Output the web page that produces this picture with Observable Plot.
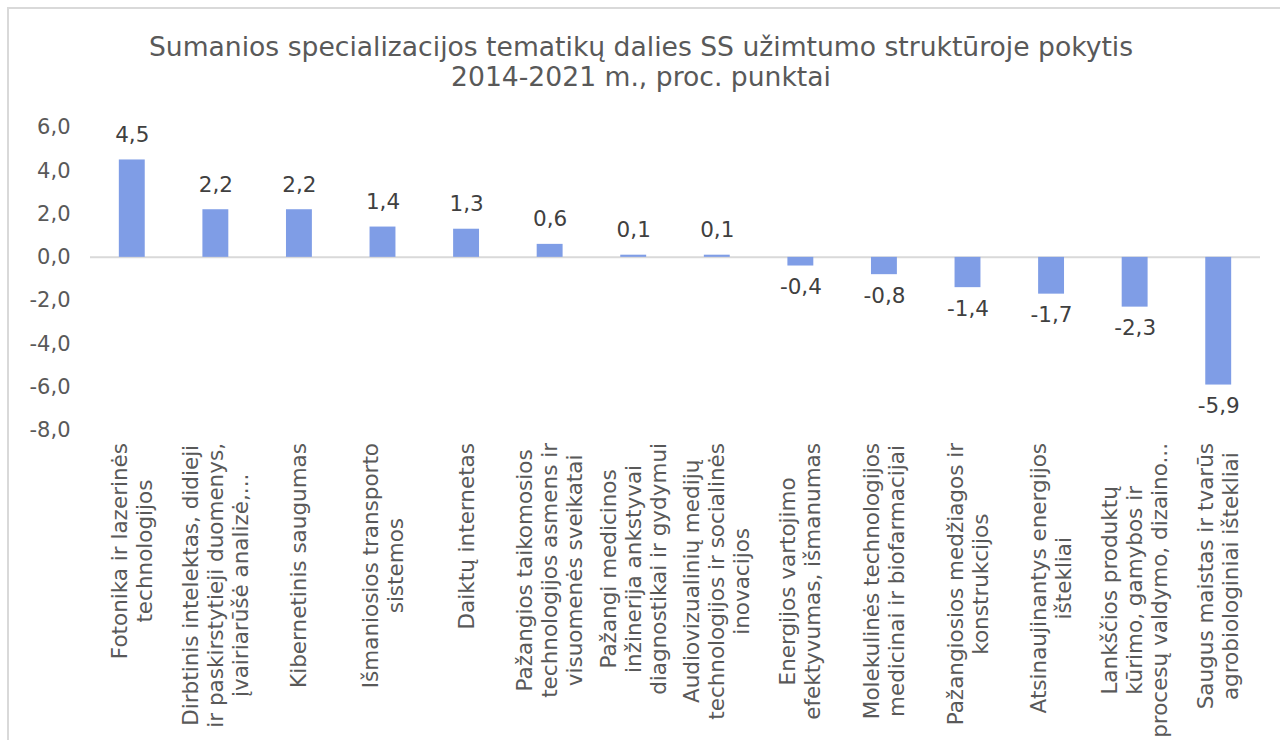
<!DOCTYPE html>
<html><head><meta charset="utf-8">
<script src="https://cdn.jsdelivr.net/npm/d3@7"></script>
<script src="https://cdn.jsdelivr.net/npm/@observablehq/plot@0.6"></script>
<style>
body{margin:0;background:#fff;font-family:"DejaVu Sans",Verdana,sans-serif;}
#wrap{position:relative;width:1280px;height:740px;overflow:hidden;background:#fff;}
#frame{position:absolute;left:7px;top:7px;width:1290px;height:750px;border-left:2px solid #d9d9d9;border-top:2px solid #d9d9d9;box-sizing:border-box;}
#title{position:absolute;top:32px;left:1px;width:1280px;text-align:center;font-size:26.6px;color:#595959;line-height:30px;}
#chart{position:absolute;top:100px;left:0;}
</style></head>
<body>
<div id="wrap">
  <div id="frame"></div>
  <div id="title">Sumanios specializacijos tematikų dalies SS užimtumo struktūroje pokytis<br>2014-2021 m., proc. punktai</div>
  <div id="chart"></div>
</div>
<script>
const categories = [
  "Fotonika ir lazerinės\ntechnologijos",
  "Dirbtinis intelektas, didieji\nir paskirstytieji duomenys,\nįvairiarūšė analizė,...",
  "Kibernetinis saugumas",
  "Išmaniosios transporto\nsistemos",
  "Daiktų internetas",
  "Pažangios taikomosios\ntechnologijos asmens ir\nvisuomenės sveikatai",
  "Pažangi medicinos\ninžinerija ankstyvai\ndiagnostikai ir gydymui",
  "Audiovizualinių medijų\ntechnologijos ir socialinės\ninovacijos",
  "Energijos vartojimo\nefektyvumas, išmanumas",
  "Molekulinės technologijos\nmedicinai ir biofarmacijai",
  "Pažangiosios medžiagos ir\nkonstrukcijos",
  "Atsinaujinantys energijos\ništekliai",
  "Lankščios produktų\nkūrimo, gamybos ir\nprocesų valdymo, dizaino...",
  "Saugus maistas ir tvarūs\nagrobiologiniai ištekliai"
];
const values = [4.5, 2.2, 2.2, 1.4, 1.3, 0.6, 0.1, 0.1, -0.4, -0.8, -1.4, -1.7, -2.3, -5.9];
const yTicks = [-8, -6, -4, -2, 0, 2, 4, 6];

const data = categories.map((c, i) => ({cat: c, value: values[i]}));
const fmt = d => d3.format(".1f")(d).replace(".", ",").replace("\u2212", "-");

const chart = Plot.plot({
  width: 1280, height: 640,
  marginTop: 27, marginBottom: 310, marginLeft: 90, marginRight: 20,
  style: {fontFamily: "DejaVu Sans", fontSize: "21px", color: "#595959", background: "transparent"},
  x: {domain: categories, paddingInner: 0.69, paddingOuter: 0.345, round: false, axis: null},
  y: {domain: [-8, 6], axis: null},
  marks: [
    Plot.axisY({ticks: yTicks, tickFormat: fmt, tickSize: 0, tickPadding: 20, fontSize: 21, fill: "#595959", label: null}),
    Plot.ruleY([0], {stroke: "#d9d9d9", strokeWidth: 2}),
    Plot.barY(data, {x: "cat", y: "value", fill: "#7F9DE6"}),
    Plot.text(data.filter(d => d.value >= 0), {x: "cat", y: "value", text: d => fmt(d.value), lineAnchor: "bottom", dy: -18, fill: "#404040", fontSize: 21.5}),
    Plot.text(data.filter(d => d.value < 0), {x: "cat", y: "value", text: d => fmt(d.value), lineAnchor: "top", dy: 13, fill: "#404040", fontSize: 21.5})
  ]
});
document.getElementById("chart").appendChild(chart);

// multi-line rotated category labels, centred lines, top-aligned below the plot area
const xs = chart.scale("x");
const ys = chart.scale("y");
const labelTop = ys.range[0] + 13;
const lineH = 25;
const g = d3.select(chart).append("g")
  .attr("font-family", "DejaVu Sans").attr("font-size", 21.5).attr("fill", "#595959");
categories.forEach(c => {
  const lines = c.split("\n");
  const cx = xs.apply(c) + xs.bandwidth / 2;
  const t = g.append("text").attr("text-anchor", "middle")
    .attr("transform", `translate(${cx},${labelTop}) rotate(-90)`);
  lines.forEach((ln, j) => t.append("tspan").attr("x", 0)
    .attr("y", (j - (lines.length - 1) / 2) * lineH).attr("dy", "0.35em").text(ln));
  const maxLen = d3.max(t.selectAll("tspan").nodes(), n => n.getComputedTextLength());
  t.selectAll("tspan").attr("x", -maxLen / 2);
});
</script>
</body></html>
